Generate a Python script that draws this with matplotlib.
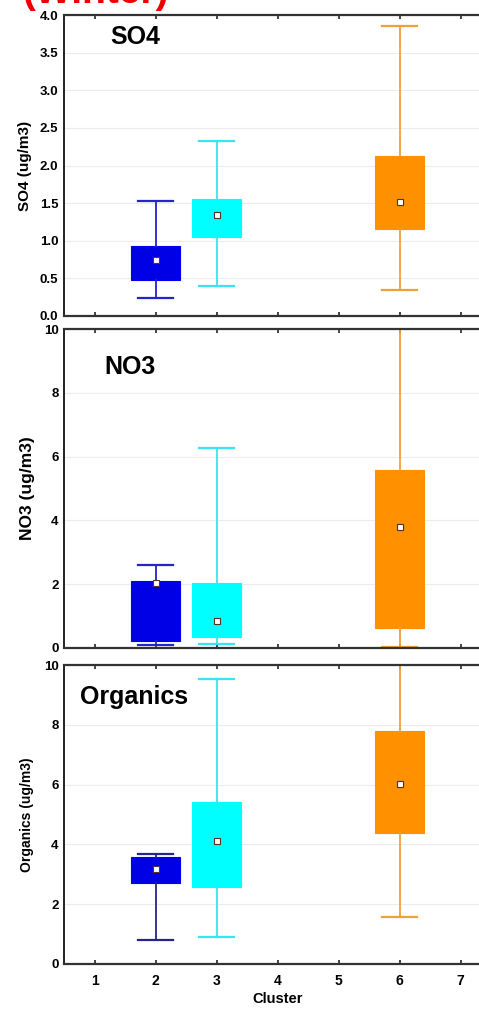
import matplotlib
matplotlib.use('Agg')
import matplotlib.pyplot as plt

plt.rcParams['font.family'] = ['Liberation Sans', 'DejaVu Sans']
plt.rcParams['font.weight'] = 'bold'

clusters = [2, 3, 6]
box_colors = ['#0000e6', '#00ffff', '#ff9000']
whisker_colors = ['#2424c8', '#33e6f0', '#f0a038']

# per cluster: lower whisker, q1, median, q3, upper whisker
so4_lo = [0.24, 0.40, 0.34]
so4_q1 = [0.48, 1.05, 1.15]
so4_med = [0.75, 1.34, 1.51]
so4_q3 = [0.93, 1.56, 2.13]
so4_hi = [1.53, 2.33, 3.85]

no3_lo = [0.09, 0.13, 0.04]
no3_q1 = [0.23, 0.34, 0.62]
no3_med = [2.03, 0.85, 3.80]
no3_q3 = [2.11, 2.03, 5.58]
no3_hi = [2.60, 6.26, 11.5]

org_lo = [0.80, 0.91, 1.56]
org_q1 = [2.70, 2.57, 4.37]
org_med = [3.19, 4.11, 6.03]
org_q3 = [3.58, 5.41, 7.80]
org_hi = [3.69, 9.53, 11.5]

panels = [
    ('SO4', 'SO4 (ug/m3)', 4.0, [0, 0.5, 1.0, 1.5, 2.0, 2.5, 3.0, 3.5, 4.0],
     (so4_lo, so4_q1, so4_med, so4_q3, so4_hi), 11),
    ('NO3', 'NO3 (ug/m3)', 10, [0, 2, 4, 6, 8, 10],
     (no3_lo, no3_q1, no3_med, no3_q3, no3_hi), 12.5),
    ('Organics', 'Organics (ug/m3)', 10, [0, 2, 4, 6, 8, 10],
     (org_lo, org_q1, org_med, org_q3, org_hi), 10),
]
title_pos = [(110, 37), (104, 367), (80, 697)]
label_x = [25, 28, 27]
ax_rect = [(15, 316), (329, 648), (665, 964)]

W, H = 479, 1009
fig = plt.figure(figsize=(W / 100, H / 100), dpi=100)
fig.patch.set_facecolor('white')

# red heading, mostly above the top edge
fig.text(22 / W, 1 - 3 / H, '(Winter)', color='#ee0000', fontsize=28,
         fontweight='bold', va='baseline', ha='left')

left, right = 64, 491
for i, (name, ylab, ymax, yticks, vals, lfs) in enumerate(panels):
    top, bot = ax_rect[i]
    ax = fig.add_axes([left / W, 1 - bot / H, (right - left) / W, (bot - top) / H])
    lo, q1, med, q3, hi = vals
    for k, c in enumerate(clusters):
        stats = {'whislo': lo[k], 'q1': q1[k], 'med': med[k],
                 'q3': q3[k], 'whishi': hi[k], 'fliers': []}
        wc = whisker_colors[k]
        if name == 'Organics' and k == 0:
            wc = '#25258a'
        ax.bxp([stats], positions=[c], widths=0.8, patch_artist=True,
               showfliers=False, manage_ticks=False,
               boxprops=dict(facecolor=box_colors[k], edgecolor=box_colors[k], linewidth=0.8),
               whiskerprops=dict(color=wc, linewidth=1.3),
               capprops=dict(color=wc, linewidth=1.6),
               medianprops=dict(linestyle='none'),
               capwidths=0.56)
        ax.plot(c, med[k], 's', ms=4.2, mfc='white', mec='#553322', mew=0.8, zorder=5)

    ax.set_xlim(0.5, 7.5)
    ax.set_ylim(0, ymax)
    ax.set_yticks(yticks)
    ax.set_yticklabels(['%g' % t if ymax > 5 else '%.1f' % t for t in yticks],
                       fontsize=9.5, fontweight='bold')
    ax.set_xticks(range(1, 8))
    ax.yaxis.grid(True, color='#ececec', linewidth=0.8)
    ax.set_axisbelow(True)
    ax.tick_params(axis='y', length=0, pad=4)
    ax.tick_params(axis='x', direction='in', length=3, width=1.2, top=True, color='#222222')
    if i < 2:
        ax.set_xticklabels([])
    else:
        ax.set_xticklabels([str(t) for t in range(1, 8)], fontsize=10, fontweight='bold')
        ax.tick_params(axis='x', pad=7)
        ax.set_xlabel('Cluster', fontsize=10.5, fontweight='bold', labelpad=3)
    ax.set_ylabel(ylab, fontsize=lfs, fontweight='bold', va='center')
    ax.yaxis.set_label_coords((label_x[i] - left) / (right - left), 0.5)
    for s in ['top', 'bottom']:
        ax.spines[s].set_color('#333333')
        ax.spines[s].set_linewidth(1.6)
    ax.spines['left'].set_color('#222222')
    ax.spines['left'].set_linewidth(1.4)
    ax.spines['right'].set_visible(False)
    tx, ty = title_pos[i]
    fig.text(tx / W, 1 - ty / H, name, fontsize=18, fontweight='bold',
             ha='left', va='center')

fig.savefig('out.png', dpi=100)
